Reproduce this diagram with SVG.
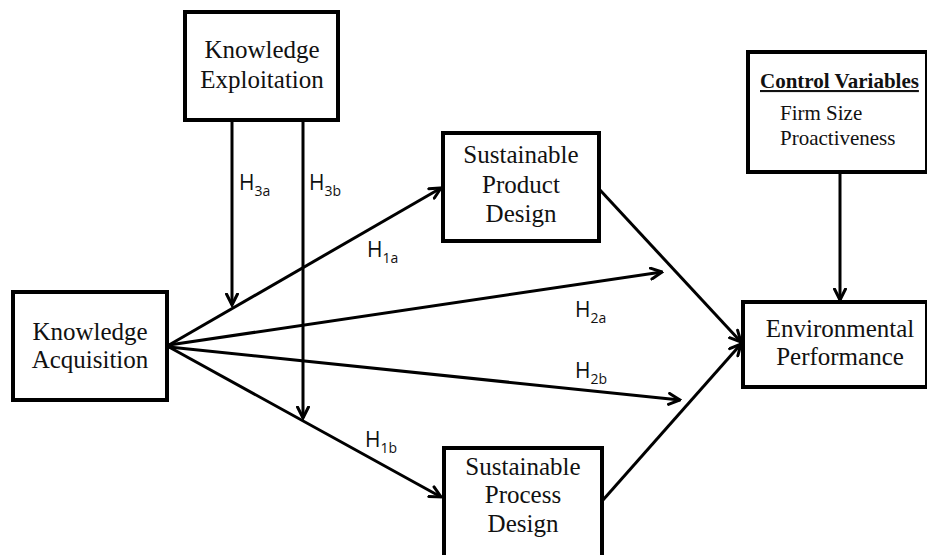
<svg xmlns="http://www.w3.org/2000/svg" width="927" height="555" viewBox="0 0 927 555">
<defs>
<marker id="arr" viewBox="0 0 14 14" refX="12.5" refY="7" markerWidth="14" markerHeight="14" markerUnits="userSpaceOnUse" orient="auto">
<path d="M1.5,1.5 L12.5,7 L1.5,12.5" fill="none" stroke="#000" stroke-width="3" stroke-linecap="round" stroke-linejoin="miter"/>
</marker>
<style>
.box{fill:#fff;stroke:#000;stroke-width:4}
.t{font-family:"Liberation Serif","Times New Roman",serif;font-size:25px;fill:#111;text-anchor:middle}
.s{font-family:"Liberation Serif","Times New Roman",serif;font-size:21px;fill:#111}
.h{font-family:"Open Sans","Noto Sans",sans-serif;font-size:21px;fill:#111}
.sub{font-size:14px}
.c{fill:none;stroke:#000;stroke-width:3;marker-end:url(#arr)}
</style>
</defs>
<rect width="927" height="555" fill="#fff"/>
<g id="connectors">
<line class="c" x1="232" y1="120" x2="232" y2="305"/>
<line class="c" x1="303" y1="120" x2="303" y2="418"/>
<line class="c" x1="169" y1="345" x2="441" y2="188"/>
<line class="c" x1="169" y1="347" x2="441" y2="497"/>
<line class="c" x1="169" y1="345" x2="662" y2="272"/>
<line class="c" x1="169" y1="347" x2="680" y2="400"/>
<line class="c" x1="600" y1="190" x2="741" y2="342"/>
<line class="c" x1="603" y1="500" x2="741" y2="344"/>
<line class="c" x1="840" y1="172" x2="840" y2="300"/>
</g>
<g id="knowledge-exploitation">
<rect class="box" x="185" y="12" width="153" height="108"/>
<text class="t" x="262" y="58">Knowledge</text>
<text class="t" x="262" y="88">Exploitation</text>
</g>
<g id="knowledge-acquisition">
<rect class="box" x="13" y="292" width="154" height="108"/>
<text class="t" x="90" y="340">Knowledge</text>
<text class="t" x="90" y="368">Acquisition</text>
</g>
<g id="sustainable-product-design">
<rect class="box" x="443" y="133" width="156" height="108"/>
<text class="t" x="521" y="163">Sustainable</text>
<text class="t" x="521" y="193">Product</text>
<text class="t" x="521" y="222">Design</text>
</g>
<g id="sustainable-process-design">
<rect class="box" x="444" y="448" width="158" height="120"/>
<text class="t" x="523" y="475">Sustainable</text>
<text class="t" x="523" y="503">Process</text>
<text class="t" x="523" y="532">Design</text>
</g>
<g id="environmental-performance">
<rect class="box" x="743" y="302" width="184" height="85"/>
<text class="t" x="840" y="337">Environmental</text>
<text class="t" x="840" y="365">Performance</text>
</g>
<g id="control-variables">
<rect class="box" x="748" y="52" width="179" height="120"/>
<text class="s" x="760" y="88" font-weight="bold" text-decoration="underline">Control Variables</text>
<text class="s" x="780" y="120">Firm Size</text>
<text class="s" x="780" y="145">Proactiveness</text>
</g>
<g id="labels">
<text class="h" x="239" y="190">H<tspan class="sub" dy="6">3a</tspan></text>
<text class="h" x="309" y="190">H<tspan class="sub" dy="6">3b</tspan></text>
<text class="h" x="367" y="257">H<tspan class="sub" dy="6">1a</tspan></text>
<text class="h" x="575" y="317">H<tspan class="sub" dy="6">2a</tspan></text>
<text class="h" x="575" y="378">H<tspan class="sub" dy="6">2b</tspan></text>
<text class="h" x="365" y="447">H<tspan class="sub" dy="6">1b</tspan></text>
</g>
</svg>
